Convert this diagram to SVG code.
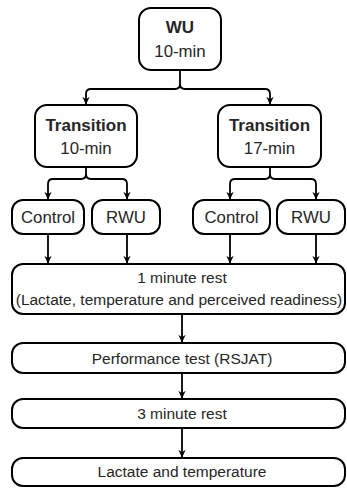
<svg xmlns="http://www.w3.org/2000/svg" width="347" height="488" viewBox="0 0 347 488">
<style>
.box{fill:#fff;stroke:#000;stroke-width:2}
.t{font-family:"Liberation Sans",Arial,sans-serif;fill:#262626;text-anchor:middle}
.b{font-weight:bold;font-size:17px}
.m{font-size:16.800px}
.s{font-size:15.500px}
.c{fill:none;stroke:#000;stroke-width:1.8}
</style>
<defs>
<marker id="ah" viewBox="0 0 10 10" refX="9" refY="5" markerWidth="8" markerHeight="8" orient="auto" markerUnits="userSpaceOnUse">
<path d="M0,0.500 L10,5 L0,9.500 L3,5 Z" fill="#000"/>
</marker>
</defs>
<g id="connectors">
<path class="c" d="M180,70 V84 Q180,89 175,89 H91 Q86,89 86,94 V104" marker-end="url(#ah)"/>
<path class="c" d="M180,84 Q180,89 185,89 H265 Q270,89 270,94 V104" marker-end="url(#ah)"/>
<path class="c" d="M86,167 V174 Q86,179 81,179 H53 Q48,179 48,184 V199" marker-end="url(#ah)"/>
<path class="c" d="M86,174 Q86,179 91,179 H122 Q127,179 127,184 V199" marker-end="url(#ah)"/>
<path class="c" d="M270,167 V174 Q270,179 265,179 H235 Q230,179 230,184 V199" marker-end="url(#ah)"/>
<path class="c" d="M270,174 Q270,179 275,179 H311 Q316,179 316,184 V199" marker-end="url(#ah)"/>
<path class="c" d="M48,234 V263" marker-end="url(#ah)"/>
<path class="c" d="M127,234 V263" marker-end="url(#ah)"/>
<path class="c" d="M230,234 V263" marker-end="url(#ah)"/>
<path class="c" d="M316,234 V263" marker-end="url(#ah)"/>
<path class="c" d="M182,314 V342" marker-end="url(#ah)"/>
<path class="c" d="M182,373 V398" marker-end="url(#ah)"/>
<path class="c" d="M182,428 V457" marker-end="url(#ah)"/>
</g>
<g id="wu">
<rect class="box" x="139" y="8" width="82" height="62" rx="12"/>
<text class="t b" x="180" y="33">WU</text>
<text class="t m" x="180" y="57">10-min</text>
</g>
<g id="trans10">
<rect class="box" x="35" y="105" width="102" height="62" rx="12"/>
<text class="t b" x="86" y="131">Transition</text>
<text class="t m" x="86" y="154">10-min</text>
</g>
<g id="trans17">
<rect class="box" x="218" y="105" width="103" height="62" rx="12"/>
<text class="t b" x="269.500" y="131">Transition</text>
<text class="t m" x="269.500" y="154">17-min</text>
</g>
<g id="control1">
<rect class="box" x="12" y="200" width="72" height="34" rx="11"/>
<text class="t m" x="48" y="223">Control</text>
</g>
<g id="rwu1">
<rect class="box" x="92" y="200" width="68" height="34" rx="11"/>
<text class="t m" x="126" y="223">RWU</text>
</g>
<g id="control2">
<rect class="box" x="193" y="200" width="77" height="34" rx="11"/>
<text class="t m" x="231.500" y="223">Control</text>
</g>
<g id="rwu2">
<rect class="box" x="277" y="200" width="68" height="34" rx="11"/>
<text class="t m" x="311" y="223">RWU</text>
</g>
<g id="rest1">
<rect class="box" x="12" y="264" width="333" height="50" rx="11"/>
<text class="t s" x="182" y="283">1 minute rest</text>
<text class="t s" x="179" y="305">(Lactate, temperature and perceived readiness)</text>
</g>
<g id="perf">
<rect class="box" x="12" y="343" width="333" height="30" rx="11"/>
<text class="t s" x="182" y="364">Performance test (RSJAT)</text>
</g>
<g id="rest3">
<rect class="box" x="12" y="399" width="333" height="29" rx="11"/>
<text class="t s" x="182" y="419">3 minute rest</text>
</g>
<g id="lactate">
<rect class="box" x="12" y="458" width="333" height="28" rx="11"/>
<text class="t s" x="182" y="477">Lactate and temperature</text>
</g>
</svg>
